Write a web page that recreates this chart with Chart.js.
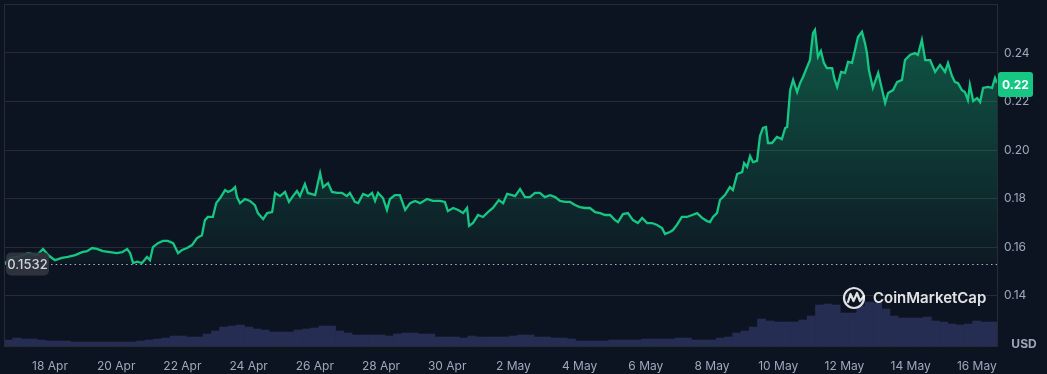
<!DOCTYPE html>
<html>
<head>
<meta charset="utf-8">
<script src="https://cdn.jsdelivr.net/npm/chart.js@4.4.0/dist/chart.umd.min.js"></script>
<style>
    html, body { margin: 0; padding: 0; background: #0d1421; }
    #contenedor { position: relative; width: 1047px; height: 374px; }
</style>
</head>
<body>
<div id="contenedor"><canvas id="graficoPrecio"></canvas></div>
<script>
// Datos: días desde el 18 Apr (00:00) y precio en USD
const priceDays = [
    -1.36, -1.21, -0.97, -0.66, -0.39, -0.21, -0.06, 0.15, 0.36, 0.54,
    0.76, 0.97, 1.12, 1.27, 1.42, 1.60, 1.81, 2.02, 2.18, 2.33,
    2.42, 2.51, 2.63, 2.78, 2.93, 3.02, 3.11, 3.26, 3.41, 3.56,
    3.72, 3.87, 3.99, 4.14, 4.29, 4.44, 4.59, 4.68, 4.77, 4.92,
    5.02, 5.14, 5.29, 5.38, 5.50, 5.59, 5.65, 5.74, 5.89, 6.04,
    6.19, 6.28, 6.44, 6.56, 6.71, 6.80, 6.95, 7.10, 7.22, 7.34,
    7.46, 7.55, 7.70, 7.79, 8.01, 8.16, 8.25, 8.40, 8.52, 8.67,
    8.82, 8.97, 9.06, 9.21, 9.31, 9.46, 9.61, 9.73, 9.82, 9.91,
    10.06, 10.18, 10.27, 10.42, 10.57, 10.73, 10.88, 11.03, 11.18, 11.39,
    11.57, 11.78, 11.93, 12.02, 12.18, 12.33, 12.48, 12.60, 12.66, 12.78,
    12.93, 13.08, 13.23, 13.38, 13.56, 13.69, 13.81, 13.96, 14.05, 14.20,
    14.35, 14.50, 14.65, 14.80, 14.95, 15.11, 15.26, 15.41, 15.56, 15.71,
    15.86, 16.01, 16.16, 16.31, 16.47, 16.62, 16.77, 16.92, 17.07, 17.16,
    17.31, 17.46, 17.61, 17.76, 17.89, 18.04, 18.19, 18.34, 18.49, 18.58,
    18.73, 18.82, 18.94, 19.09, 19.24, 19.40, 19.55, 19.70, 19.85, 19.94,
    20.03, 20.15, 20.24, 20.39, 20.54, 20.63, 20.76, 20.91, 20.97, 21.06,
    21.15, 21.24, 21.36, 21.45, 21.54, 21.63, 21.69, 21.81, 21.96, 22.11,
    22.21, 22.27, 22.36, 22.45, 22.57, 22.66, 22.75, 22.87, 22.96, 23.05,
    23.11, 23.20, 23.29, 23.38, 23.47, 23.63, 23.69, 23.78, 23.90, 24.02,
    24.11, 24.23, 24.32, 24.41, 24.53, 24.62, 24.68, 24.74, 24.86, 25.02,
    25.14, 25.23, 25.32, 25.47, 25.59, 25.74, 25.83, 25.98, 26.13, 26.22,
    26.34, 26.44, 26.59, 26.74, 26.89, 27.04, 27.13, 27.25, 27.34, 27.43,
    27.55, 27.64, 27.73, 27.79, 27.89, 28.01, 28.10, 28.19, 28.34, 28.46,
    28.55, 28.61
];
const priceValues = [
    0.1531, 0.1555, 0.1559, 0.1575, 0.1567, 0.1592, 0.1567, 0.1546, 0.1555, 0.1559,
    0.1567, 0.1579, 0.1583, 0.1596, 0.1592, 0.1583, 0.1579, 0.1575, 0.1579, 0.1592,
    0.1575, 0.1534, 0.1540, 0.1534, 0.1559, 0.1546, 0.1600, 0.1616, 0.1625, 0.1625,
    0.1616, 0.1575, 0.1588, 0.1596, 0.1608, 0.1637, 0.1649, 0.1711, 0.1724, 0.1724,
    0.1781, 0.1802, 0.1835, 0.1827, 0.1835, 0.1847, 0.1806, 0.1781, 0.1798, 0.1790,
    0.1773, 0.1740, 0.1715, 0.1740, 0.1744, 0.1823, 0.1810, 0.1827, 0.1786, 0.1810,
    0.1831, 0.1810, 0.1860, 0.1823, 0.1814, 0.1905, 0.1847, 0.1864, 0.1827, 0.1823,
    0.1823, 0.1810, 0.1823, 0.1786, 0.1781, 0.1819, 0.1810, 0.1823, 0.1790, 0.1823,
    0.1802, 0.1753, 0.1798, 0.1814, 0.1814, 0.1753, 0.1781, 0.1790, 0.1781, 0.1798,
    0.1790, 0.1790, 0.1786, 0.1748, 0.1761, 0.1753, 0.1740, 0.1761, 0.1687, 0.1699,
    0.1732, 0.1724, 0.1744, 0.1761, 0.1794, 0.1781, 0.1819, 0.1814, 0.1810, 0.1839,
    0.1806, 0.1806, 0.1823, 0.1823, 0.1806, 0.1814, 0.1806, 0.1790, 0.1786, 0.1786,
    0.1773, 0.1765, 0.1761, 0.1761, 0.1744, 0.1740, 0.1732, 0.1732, 0.1711, 0.1703,
    0.1736, 0.1740, 0.1711, 0.1699, 0.1720, 0.1699, 0.1699, 0.1691, 0.1678, 0.1654,
    0.1662, 0.1670, 0.1691, 0.1724, 0.1724, 0.1732, 0.1740, 0.1720, 0.1707, 0.1703,
    0.1724, 0.1740, 0.1794, 0.1814, 0.1847, 0.1835, 0.1901, 0.1909, 0.1946, 0.1930,
    0.1975, 0.1950, 0.1955, 0.2058, 0.2091, 0.2095, 0.2029, 0.2029, 0.2054, 0.2045,
    0.2091, 0.2095, 0.2247, 0.2289, 0.2239, 0.2276, 0.2301, 0.2342, 0.2371, 0.2482,
    0.2495, 0.2384, 0.2408, 0.2359, 0.2338, 0.2338, 0.2297, 0.2260, 0.2322, 0.2318,
    0.2363, 0.2359, 0.2412, 0.2466, 0.2487, 0.2441, 0.2400, 0.2330, 0.2256, 0.2318,
    0.2247, 0.2194, 0.2235, 0.2247, 0.2280, 0.2289, 0.2371, 0.2392, 0.2400, 0.2392,
    0.2454, 0.2371, 0.2371, 0.2322, 0.2351, 0.2322, 0.2359, 0.2305, 0.2280, 0.2276,
    0.2247, 0.2239, 0.2206, 0.2268, 0.2202, 0.2214, 0.2198, 0.2256, 0.2260, 0.2256,
    0.2297, 0.2276
];

// Volumen en bloques de 6 horas (unidades relativas), desde el 16 Apr 18:00
const volumeStartDay = -1.25;
const volumeStepDay = 0.25;
const volumeValues = [
    6, 8, 7, 7, 6, 5, 5, 5, 4, 4,
    4, 4, 4, 4, 4, 4, 5, 6, 7, 8,
    10, 10, 9, 9, 12, 15, 19, 20, 21, 19,
    17, 16, 14, 14, 14, 16, 17, 18, 20, 20,
    15, 13, 11, 11, 11, 11, 10, 12, 13, 13,
    12, 12, 9, 9, 9, 8, 10, 9, 9, 9,
    9, 10, 11, 11, 9, 9, 8, 8, 7, 5,
    5, 5, 5, 6, 6, 6, 6, 7, 7, 7,
    7, 8, 8, 6, 6, 6, 8, 9, 13, 15,
    19, 27, 25, 24, 24, 24, 26, 30, 41, 42,
    41, 33, 33, 40, 44, 43, 37, 30, 28, 28,
    28, 29, 25, 24, 22, 21, 22, 25, 24, 24
];
const volumeAxisMax = 342;

// Ejes
const xTickDays = [0, 2, 4, 6, 8, 10, 12, 14, 16, 18, 20, 22, 24, 26, 28];
const xTickLabels = ['18 Apr', '20 Apr', '22 Apr', '24 Apr', '26 Apr', '28 Apr', '30 Apr',
    '2 May', '4 May', '6 May', '8 May', '10 May', '12 May', '14 May', '16 May'];
const yTickValues = [0.14, 0.16, 0.18, 0.20, 0.22, 0.24];
const xMinDay = -1.39;
const xMaxDay = 28.64;
const yMin = 0.1192;
const yMax = 0.2602;

const basePrice = 0.1532;
const baseLabel = '0.1532';
const lastLabel = '0.22';

const VERDE = '#16c784';
const TEXTO = '#a1a7bb';
const GRID = '#262b36';
const FUENTE = "Inter, 'Noto Sans', sans-serif";

const pricePoints = priceDays.map((d, i) => ({ x: d, y: priceValues[i] }));
const volumePoints = volumeValues.map((v, i) => ({ x: volumeStartDay + i * volumeStepDay, y: v }));

function roundRect(ctx, x, y, w, h, r) {
    ctx.beginPath();
    ctx.moveTo(x + r, y);
    ctx.arcTo(x + w, y, x + w, y + h, r);
    ctx.arcTo(x + w, y + h, x, y + h, r);
    ctx.arcTo(x, y + h, x, y, r);
    ctx.arcTo(x, y, x + w, y, r);
    ctx.closePath();
}

/**
 * Decoraciones: marco, línea base punteada, etiquetas y marca de agua
 */
const decoraciones = {
    id: 'decoraciones',
    afterDatasetsDraw(chart) {
        const { ctx, chartArea: a, scales } = chart;
        const yb = Math.round(scales.y.getPixelForValue(basePrice)) + 0.5;
        ctx.save();
        ctx.strokeStyle = 'rgba(215,220,230,0.8)';
        ctx.lineWidth = 1;
        ctx.setLineDash([1.5, 3.2]);
        ctx.beginPath();
        ctx.moveTo(a.left, yb);
        ctx.lineTo(a.right, yb);
        ctx.stroke();
        ctx.restore();
    },
    afterDraw(chart) {
        const { ctx, chartArea: a, scales } = chart;
        ctx.save();

        // marco del área
        ctx.strokeStyle = GRID;
        ctx.lineWidth = 1;
        ctx.strokeRect(a.left + 0.5, a.top + 0.5, a.right - a.left - 1, a.bottom - a.top);

        // etiqueta de precio base
        const yb = scales.y.getPixelForValue(basePrice);
        ctx.fillStyle = 'rgba(48,53,64,0.92)';
        roundRect(ctx, 6, yb - 11, 43, 23, 5);
        ctx.fill();
        ctx.fillStyle = '#cfd4df';
        ctx.font = '500 13px ' + FUENTE;
        ctx.textAlign = 'center';
        ctx.textBaseline = 'middle';
        ctx.fillText(baseLabel, 27.5, yb + 1.5);

        // etiqueta del último precio
        const yl = scales.y.getPixelForValue(priceValues[priceValues.length - 1]);
        ctx.fillStyle = VERDE;
        roundRect(ctx, a.right, yl - 11, 35, 25, 3);
        ctx.fill();
        ctx.fillStyle = '#ffffff';
        ctx.font = 'bold 12px ' + FUENTE;
        ctx.fillText(lastLabel, a.right + 17.5, yl + 2);

        // USD
        ctx.fillStyle = TEXTO;
        ctx.font = 'bold 12px ' + FUENTE;
        ctx.fillText('USD', 1024, 344);

        // marca de agua CoinMarketCap
        ctx.strokeStyle = 'rgba(255,255,255,0.88)';
        ctx.fillStyle = 'rgba(255,255,255,0.88)';
        ctx.lineWidth = 2.2;
        ctx.lineCap = 'round';
        ctx.lineJoin = 'round';
        ctx.beginPath();
        ctx.arc(854, 298, 10, -0.25 * Math.PI, 1.72 * Math.PI);
        ctx.stroke();
        ctx.beginPath();
        ctx.moveTo(848, 302);
        ctx.lineTo(850.5, 294);
        ctx.lineTo(853.5, 301);
        ctx.lineTo(857, 293);
        ctx.lineTo(860, 301);
        ctx.lineTo(864, 296);
        ctx.stroke();
        ctx.font = '600 15px ' + FUENTE;
        ctx.textAlign = 'left';
        ctx.fillText('CoinMarketCap', 873, 298);

        ctx.restore();
    }
};

document.addEventListener('DOMContentLoaded', function() {
    const canvas = document.getElementById('graficoPrecio');
    const ctx = canvas.getContext('2d');

    new Chart(ctx, {
        data: {
            datasets: [
                {
                    type: 'line',
                    label: 'Precio',
                    data: pricePoints,
                    yAxisID: 'y',
                    borderColor: VERDE,
                    borderWidth: 2.3,
                    pointRadius: 0,
                    tension: 0,
                    order: 0,
                    fill: { value: basePrice },
                    backgroundColor: function(context) {
                        const chart = context.chart;
                        const area = chart.chartArea;
                        if (!area) return 'rgba(22,199,132,0.15)';
                        const yTop = chart.scales.y.getPixelForValue(0.25);
                        const yBase = chart.scales.y.getPixelForValue(basePrice);
                        const g = chart.ctx.createLinearGradient(0, yTop, 0, yBase);
                        g.addColorStop(0, 'rgba(22,199,132,0.38)');
                        g.addColorStop(1, 'rgba(22,199,132,0.03)');
                        return g;
                    }
                },
                {
                    type: 'bar',
                    label: 'Volumen',
                    data: volumePoints,
                    yAxisID: 'yv',
                    backgroundColor: '#262d52',
                    borderWidth: 0,
                    barPercentage: 1,
                    categoryPercentage: 1,
                    order: 1
                }
            ]
        },
        options: {
            responsive: true,
            maintainAspectRatio: false,
            animation: false,
            layout: { padding: { left: 4, top: 4, right: 0, bottom: 0 } },
            plugins: {
                legend: { display: false },
                tooltip: { enabled: false }
            },
            scales: {
                x: {
                    type: 'linear',
                    offset: false,
                    min: xMinDay,
                    max: xMaxDay,
                    grid: { display: false },
                    border: { display: false },
                    afterBuildTicks: scale => {
                        scale.ticks = xTickDays.map(v => ({ value: v }));
                    },
                    afterFit: scale => {
                        scale.height = 28;
                        scale.paddingLeft = 0;
                        scale.paddingRight = 0;
                    },
                    ticks: {
                        autoSkip: false,
                        maxRotation: 0,
                        padding: 5,
                        color: TEXTO,
                        font: { size: 12, family: FUENTE },
                        callback: (value, index) => xTickLabels[index]
                    }
                },
                y: {
                    position: 'right',
                    min: yMin,
                    max: yMax,
                    afterBuildTicks: scale => {
                        scale.ticks = yTickValues.map(v => ({ value: v }));
                    },
                    afterFit: scale => {
                        scale.width = 49;
                        scale.paddingTop = 0;
                        scale.paddingBottom = 0;
                    },
                    grid: { color: GRID, drawTicks: false },
                    border: { display: false },
                    ticks: {
                        padding: 6,
                        color: TEXTO,
                        font: { size: 12, family: FUENTE },
                        callback: value => value.toFixed(2)
                    }
                },
                yv: {
                    display: false,
                    min: 0,
                    max: volumeAxisMax
                }
            }
        },
        plugins: [decoraciones]
    });
});
</script>
</body>
</html>
